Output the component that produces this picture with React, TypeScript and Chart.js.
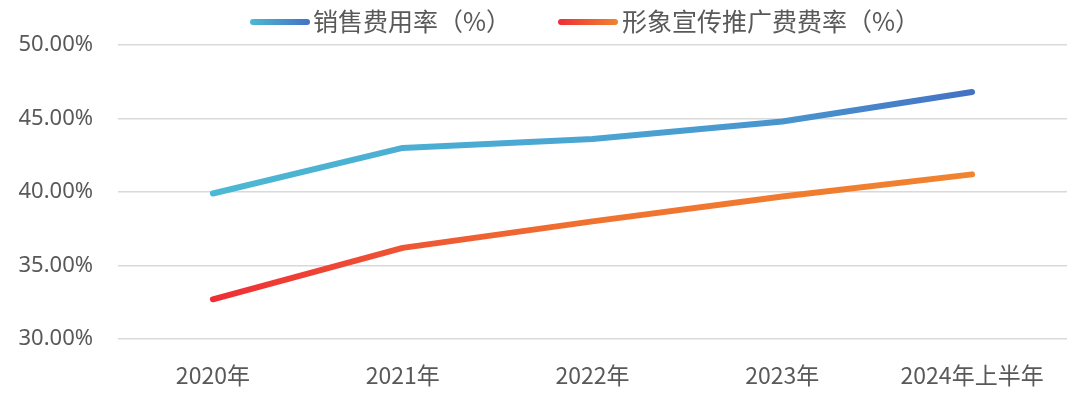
import React, { useEffect, useRef } from "react";
import { Chart, registerables } from "chart.js";

Chart.register(...registerables);

const categories = ["2020年", "2021年", "2022年", "2023年", "2024年上半年"];
const salesRate = [39.9, 43.0, 43.6, 44.8, 46.8];
const promoRate = [32.7, 36.2, 38.0, 39.7, 41.2];
const seriesNames = ["销售费用率（%）", "形象宣传推广费费率（%）"];
const yMin = 30;
const yMax = 50;
const yStep = 5;

const TEXT = "#595959";

function makeGrad(chart: any, stops: [number, string][], fallback: string) {
  const area = chart.chartArea;
  if (!area) return fallback;
  const g = chart.ctx.createLinearGradient(area.left, 0, area.right, 0);
  stops.forEach(([o, c]) => g.addColorStop(o, c));
  return g;
}

const blueStops: [number, string][] = [
  [0.1, "#4CB8D3"],
  [0.5, "#4AA5D2"],
  [0.7, "#4895CE"],
  [0.9, "#4472C4"],
];
const redStops: [number, string][] = [
  [0.1, "#EE2E35"],
  [0.3, "#EF5434"],
  [0.5, "#F0722F"],
  [0.9, "#F0842F"],
];

const legendPlugin = {
  id: "customLegend",
  afterDraw(chart: any) {
    const ctx = chart.ctx as CanvasRenderingContext2D;
    const items = [
      { x0: 250, x1: 310, tx: 313, text: seriesNames[0], c0: "#4CB8D3", c1: "#4472C4" },
      { x0: 558, x1: 618, tx: 622, text: seriesNames[1], c0: "#EE2E35", c1: "#F0842F" },
    ];
    ctx.save();
    items.forEach((it) => {
      const g = ctx.createLinearGradient(it.x0, 0, it.x1, 0);
      g.addColorStop(0, it.c0);
      g.addColorStop(1, it.c1);
      ctx.strokeStyle = g;
      ctx.lineWidth = 6;
      ctx.lineCap = "round";
      ctx.beginPath();
      ctx.moveTo(it.x0 + 3, 22);
      ctx.lineTo(it.x1 - 3, 22);
      ctx.stroke();
      ctx.fillStyle = TEXT;
      ctx.font = '25px "Noto Sans CJK SC"';
      ctx.textBaseline = "middle";
      ctx.textAlign = "left";
      ctx.fillText(it.text, it.tx, 21);
    });
    ctx.restore();
  },
};

export default function App() {
  const ref = useRef<HTMLCanvasElement | null>(null);
  useEffect(() => {
    document.body.style.margin = "0";
    if (!ref.current) return;
    const chart = new Chart(ref.current, {
      type: "line",
      data: {
        labels: categories,
        datasets: [
          {
            label: seriesNames[0],
            data: salesRate,
            borderColor: (c: any) => makeGrad(c.chart, blueStops, "#4BA8D2"),
            borderWidth: 6,
            borderCapStyle: "round",
            borderJoinStyle: "round",
            pointRadius: 0,
            tension: 0,
          },
          {
            label: seriesNames[1],
            data: promoRate,
            borderColor: (c: any) => makeGrad(c.chart, redStops, "#F0742F"),
            borderWidth: 6,
            borderCapStyle: "round",
            borderJoinStyle: "round",
            pointRadius: 0,
            tension: 0,
          },
        ],
      },
      options: {
        animation: false,
        responsive: false,
        maintainAspectRatio: false,
        layout: { padding: { top: 45, right: 13, left: 0, bottom: 0 } },
        plugins: {
          legend: { display: false },
          tooltip: { enabled: false },
        },
        scales: {
          x: {
            offset: true,
            grid: { display: false, drawTicks: false },
            border: { display: false },
            ticks: {
              color: TEXT,
              font: { family: '"Noto Sans CJK SC"', size: 23 },
              padding: 22,
              maxRotation: 0,
              autoSkip: false,
            },
            afterFit: (s: any) => {
              s.height = 62;
            },
          },
          y: {
            min: yMin,
            max: yMax,
            grid: { color: "#D9D9D9", lineWidth: 1.5, drawTicks: false },
            border: { display: false },
            ticks: {
              stepSize: yStep,
              color: TEXT,
              font: { family: '"Noto Sans"', size: 22 },
              padding: 25,
              callback: (v: any) => Number(v).toFixed(2) + "%",
            },
            afterFit: (s: any) => {
              s.width = 118;
            },
          },
        },
      },
      plugins: [legendPlugin],
    } as any);
    return () => chart.destroy();
  }, []);
  return (
    <div style={{ width: 1080, height: 401, background: "#fff" }}>
      <canvas ref={ref} width={1080} height={401} style={{ display: "block" }} />
    </div>
  );
}
